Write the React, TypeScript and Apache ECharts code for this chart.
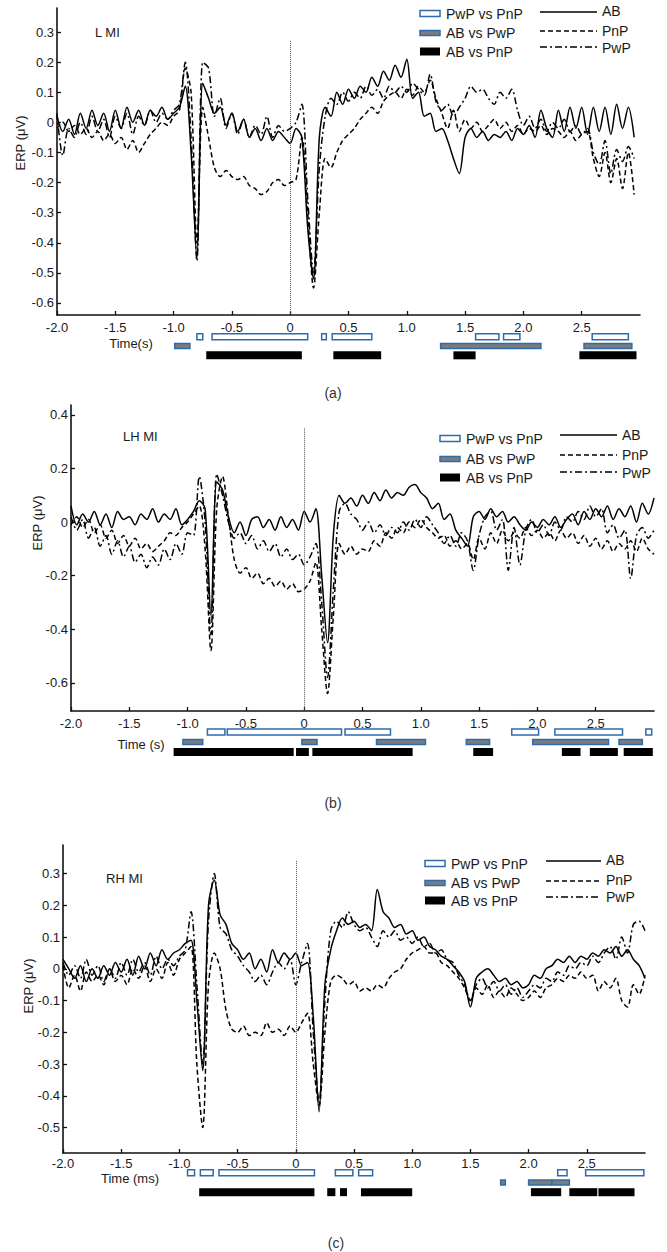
import React, { useEffect, useRef } from "react";
import * as echarts from "echarts";

// time grid (s), 0.05 s steps from -2.0 to 3.0
const TIME = Array.from({ length: 101 }, (_, i) => Math.round((-2 + i * 0.05) * 100) / 100);

// ---------- Panel (a) L MI ----------
const A_AB = [0.02,-0.03,0.01,-0.04,0.03,-0.02,0.04,-0.01,0.03,-0.03,
 0.04,-0.02,0.05,0.00,0.04,-0.01,0.04,0.02,0.05,0.01,
 0.03,0.05,0.12,-0.10,-0.45,0.13,0.08,0.03,0.05,-0.01,
 0.03,-0.03,0.01,-0.05,-0.02,-0.06,-0.02,-0.06,-0.03,-0.05,
 -0.07,-0.02,-0.05,-0.35,-0.52,-0.05,0.05,0.02,0.10,0.06,
 0.11,0.08,0.12,0.10,0.15,0.12,0.17,0.14,0.19,0.15,
 0.21,0.08,0.10,0.02,0.03,-0.03,-0.02,-0.06,-0.12,-0.17,
 -0.05,-0.02,-0.05,-0.03,-0.06,-0.04,-0.05,-0.03,-0.06,-0.02,
 -0.04,-0.01,-0.05,0.04,-0.02,-0.05,0.04,-0.03,0.05,-0.02,
 0.05,-0.04,0.05,-0.03,0.05,-0.04,0.06,-0.02,0.05,-0.05,
 null];
const A_PNP = [-0.02,0.00,-0.03,-0.01,-0.04,-0.02,-0.05,-0.03,-0.06,-0.04,
 -0.07,-0.05,-0.09,-0.06,-0.10,-0.07,-0.04,-0.02,0.00,-0.01,
 0.02,0.04,0.18,0.10,-0.40,0.05,-0.05,-0.15,-0.18,-0.16,
 -0.18,-0.19,-0.18,-0.21,-0.22,-0.24,-0.23,-0.20,-0.19,-0.21,
 -0.20,-0.19,-0.05,-0.30,-0.55,-0.30,-0.12,-0.15,-0.10,-0.06,
 -0.04,-0.02,0.01,0.03,0.05,0.03,0.07,0.09,0.10,0.08,
 0.11,0.09,0.12,0.10,0.14,0.08,0.03,-0.02,0.04,-0.03,
 0.01,-0.02,0.00,-0.03,-0.01,0.01,-0.02,0.00,-0.03,-0.01,
 -0.04,-0.02,-0.03,-0.01,-0.04,-0.02,-0.03,-0.05,-0.03,-0.06,
 -0.04,-0.03,-0.12,-0.18,-0.10,-0.20,-0.12,-0.22,-0.10,-0.24,
 null];
const A_PWP = [0.03,-0.11,-0.02,-0.05,0.00,-0.04,0.02,-0.03,0.01,-0.05,
 0.02,-0.02,0.03,-0.04,0.02,-0.01,0.04,0.00,0.03,0.01,
 0.04,0.06,0.20,-0.05,-0.46,0.20,0.18,0.02,0.08,-0.02,
 0.03,-0.04,0.01,-0.05,-0.01,-0.04,0.02,-0.05,-0.01,-0.03,
 -0.02,0.00,0.06,-0.25,-0.50,-0.15,0.02,0.08,0.06,0.10,
 0.07,0.10,0.08,0.12,0.09,0.11,0.08,0.12,0.10,0.12,
 0.10,0.13,0.11,0.09,0.16,0.07,0.04,0.06,0.02,0.05,
 0.08,0.12,0.10,0.11,0.08,0.06,0.10,0.08,0.11,0.04,
 -0.01,0.02,-0.02,0.01,-0.03,0.00,-0.02,0.01,-0.03,-0.01,
 -0.04,-0.02,-0.10,-0.14,-0.06,-0.17,-0.09,-0.13,-0.08,-0.12,
 null];
const A_PWP_VS_PNP = [[-0.80,-0.75],[-0.67,0.15],[0.27,0.31],[0.36,0.70],[1.59,1.79],[1.83,1.97],[2.59,2.90]];
const A_AB_VS_PWP = [[-0.99,-0.86],[1.29,2.15],[2.52,2.93]];
const A_AB_VS_PNP = [[-0.72,0.10],[0.37,0.78],[1.40,1.59],[2.48,2.97]];

// ---------- Panel (b) LH MI ----------
const B_AB = [0.06,-0.01,0.03,0.00,0.04,-0.01,0.03,-0.02,0.04,0.01,
 0.02,-0.01,0.03,0.01,0.05,0.00,0.03,0.01,0.05,-0.01,
 0.01,0.04,0.08,0.05,-0.35,0.15,0.12,0.02,-0.04,0.00,
 -0.05,0.01,0.02,-0.02,0.01,-0.03,0.02,-0.02,0.01,-0.03,
 0.04,0.00,0.05,-0.20,-0.45,-0.05,0.10,0.07,0.09,0.06,
 0.10,0.07,0.11,0.08,0.12,0.09,0.11,0.10,0.13,0.14,
 0.11,0.09,0.05,0.07,0.01,0.03,-0.03,-0.06,-0.09,0.02,
 0.04,0.01,0.05,0.02,0.04,0.00,0.02,-0.01,-0.03,0.00,
 -0.02,0.01,-0.01,0.02,-0.02,0.01,0.03,-0.01,0.04,0.01,
 0.05,0.02,0.06,0.01,0.05,0.02,0.06,0.00,0.07,0.03,
 0.09];
const B_PNP = [-0.01,0.02,-0.02,0.01,-0.04,-0.01,-0.06,-0.03,-0.08,-0.05,
 -0.09,-0.06,-0.10,-0.08,-0.11,-0.09,-0.07,-0.04,-0.05,-0.02,
 0.00,0.03,0.06,-0.10,-0.48,0.05,0.17,0.02,-0.14,-0.19,
 -0.17,-0.21,-0.19,-0.23,-0.21,-0.24,-0.22,-0.25,-0.23,-0.26,
 -0.25,-0.22,-0.15,-0.40,-0.64,-0.35,-0.08,-0.12,-0.09,-0.12,
 -0.10,-0.11,-0.07,-0.09,-0.04,-0.06,-0.02,-0.04,0.00,-0.02,
 0.01,-0.02,-0.04,-0.06,-0.05,-0.09,-0.07,-0.10,-0.08,-0.14,
 -0.06,-0.10,-0.04,-0.08,-0.03,-0.07,-0.04,-0.06,-0.02,-0.05,
 -0.03,-0.06,-0.04,-0.07,-0.03,-0.06,-0.04,-0.08,-0.05,-0.09,
 -0.06,-0.10,-0.07,-0.11,-0.08,-0.10,-0.07,-0.11,-0.06,-0.10,
 -0.12];
const B_PWP = [0.02,-0.03,0.01,-0.06,-0.02,-0.09,-0.05,-0.12,-0.07,-0.13,
 -0.09,-0.15,-0.12,-0.17,-0.13,-0.16,-0.10,-0.14,-0.08,-0.12,
 -0.04,-0.05,0.17,0.00,-0.42,0.18,0.10,0.00,-0.06,-0.04,
 -0.08,-0.05,-0.10,-0.07,-0.11,-0.08,-0.13,-0.10,-0.14,-0.12,
 -0.16,-0.13,-0.08,-0.30,-0.58,-0.25,0.04,0.07,0.03,0.01,
 -0.03,0.00,-0.04,-0.01,-0.05,-0.02,-0.04,0.00,-0.03,0.01,
 -0.02,0.02,-0.01,-0.04,-0.08,-0.05,-0.09,-0.04,-0.07,-0.18,
 -0.05,0.02,0.04,-0.03,0.01,-0.18,-0.02,-0.16,-0.03,0.01,
 -0.04,-0.01,-0.05,0.00,-0.03,0.02,0.00,0.04,0.01,0.06,
 0.02,0.05,-0.04,-0.01,-0.06,-0.03,-0.21,-0.05,-0.02,-0.06,
 -0.03];
const B_PWP_VS_PNP = [[-0.83,-0.68],[-0.66,0.32],[0.35,0.74],[1.78,2.01],[2.15,2.73],[2.93,2.98]];
const B_AB_VS_PWP = [[-1.04,-0.87],[-0.02,0.11],[0.62,1.04],[1.39,1.59],[1.96,2.61],[2.70,2.90]];
const B_AB_VS_PNP = [[-1.12,-0.09],[-0.07,0.04],[0.07,0.93],[1.45,1.62],[2.21,2.37],[2.45,2.69],[2.74,2.99]];

// ---------- Panel (c) RH MI ----------
const C_AB = [0.03,0.00,-0.03,0.01,-0.04,0.00,-0.03,0.01,-0.02,0.02,
 -0.01,0.03,-0.02,0.04,0.00,0.05,0.01,0.06,0.03,0.05,
 0.06,0.08,0.09,-0.10,-0.32,0.20,0.28,0.17,0.14,0.08,
 0.06,0.03,0.05,0.00,0.03,-0.01,0.06,0.02,0.05,0.03,
 0.05,0.01,0.02,-0.15,-0.45,-0.05,0.06,0.12,0.16,0.14,
 0.15,0.13,0.14,0.12,0.25,0.18,0.16,0.13,0.14,0.11,
 0.12,0.09,0.10,0.07,0.06,0.04,0.03,0.01,-0.01,-0.04,
 -0.12,-0.03,-0.01,0.00,-0.02,-0.04,-0.03,-0.05,-0.04,-0.06,
 -0.05,-0.02,-0.03,0.00,0.01,0.03,0.02,0.04,0.02,0.04,
 0.03,0.05,0.04,0.06,0.05,0.07,0.04,0.06,0.03,0.01,
 -0.03];
const C_PNP = [0.01,-0.06,-0.02,-0.07,-0.01,-0.04,-0.02,-0.05,0.00,-0.04,
 -0.02,-0.05,0.00,-0.03,0.01,-0.04,0.00,-0.03,0.02,-0.02,
 0.03,0.05,0.07,-0.30,-0.50,-0.05,0.05,0.00,-0.13,-0.19,
 -0.20,-0.18,-0.21,-0.20,-0.21,-0.17,-0.20,-0.19,-0.21,-0.18,
 -0.20,-0.17,-0.14,-0.30,-0.43,-0.20,-0.04,-0.02,-0.03,-0.05,
 -0.04,-0.07,-0.06,-0.07,-0.05,-0.06,-0.03,-0.01,0.00,0.03,
 0.05,0.06,0.07,0.05,0.05,0.02,0.01,-0.01,-0.03,-0.06,
 -0.10,-0.06,-0.08,-0.05,-0.09,-0.07,-0.09,-0.06,-0.08,-0.10,
 -0.09,-0.07,-0.09,-0.06,-0.05,-0.03,-0.04,-0.02,-0.03,-0.01,
 -0.03,-0.02,-0.07,-0.04,-0.06,-0.03,-0.10,-0.12,-0.05,-0.08,
 -0.02];
const C_PWP = [0.02,-0.02,0.01,-0.03,0.03,-0.02,0.01,-0.04,0.00,-0.03,
 0.02,-0.02,0.03,-0.01,0.02,-0.02,0.04,0.00,0.03,0.01,
 0.04,0.06,0.18,-0.05,-0.30,0.15,0.30,0.13,0.11,0.06,
 0.04,0.01,-0.01,-0.04,-0.02,-0.05,-0.01,0.02,0.00,0.03,
 -0.05,0.02,0.08,-0.20,-0.42,-0.10,0.12,0.15,0.13,0.18,
 0.14,0.12,0.13,0.10,0.07,0.12,0.10,0.12,0.09,0.10,
 0.08,0.10,0.07,0.08,0.05,0.06,0.03,0.02,-0.02,-0.05,
 -0.10,-0.05,-0.03,-0.06,-0.04,-0.07,-0.05,-0.08,-0.06,-0.09,
 -0.07,-0.05,-0.06,-0.03,-0.04,-0.01,-0.02,0.01,0.00,0.02,
 0.01,0.04,0.02,0.05,0.07,0.03,0.10,0.05,0.14,0.15,
 0.12];
const C_PWP_VS_PNP = [[-0.93,-0.87],[-0.82,-0.71],[-0.66,0.16],[0.34,0.49],[0.54,0.66],[2.25,2.33],[2.49,2.99]];
const C_AB_VS_PWP = [[1.76,1.80],[2.00,2.20],[2.20,2.35]];
const C_AB_VS_PNP = [[-0.83,0.16],[0.27,0.34],[0.38,0.44],[0.56,1.00],[2.02,2.28],[2.35,2.59],[2.60,2.91]];

// ---------- texts & scales ----------
const PANEL_LABELS = ["L MI", "LH MI", "RH MI"];
const CAPTIONS = ["(a)", "(b)", "(c)"];
const X_NAMES = ["Time(s)", "Time (s)", "Time (ms)"];
const Y_NAME = "ERP (\u03bcV)";
const BAR_LEGEND = ["PwP vs PnP", "AB vs PwP", "AB vs PnP"];
const LINE_LEGEND = ["AB", "PnP", "PwP"];
const X_RANGE = [-2, 3];
const X_STEP = 0.5;
const Y_RANGES = [[-0.64, 0.38], [-0.705, 0.437], [-0.58, 0.39]];
const Y_STEPS = [0.1, 0.2, 0.1];
const ZERO_LINE_TOP = [0.27, 0.35, 0.34];

const PANELS = [
  { ab: A_AB, pnp: A_PNP, pwp: A_PWP, bars: [A_PWP_VS_PNP, A_AB_VS_PWP, A_AB_VS_PNP] },
  { ab: B_AB, pnp: B_PNP, pwp: B_PWP, bars: [B_PWP_VS_PNP, B_AB_VS_PWP, B_AB_VS_PNP] },
  { ab: C_AB, pnp: C_PNP, pwp: C_PWP, bars: [C_PWP_VS_PNP, C_AB_VS_PWP, C_AB_VS_PNP] },
];

// layout (pixels)
const LAYOUT = [
  { left: 57, top: 8, width: 583, height: 307, barTop: 332, barH: 28, labelMargin: 6,
    label: [95, 32], yName: [20, 143], xName: [131, 343], caption: [333, 393],
    legRectX: 420, legRowY: [13.5, 33, 51.5], legTextX: 446,
    legLineX: [540, 597], legLineY: [12, 31, 47], legLineTextX: 602, legLineTextY: [11, 31, 48] },
  { left: 71, top: 405, width: 583, height: 306, barTop: 727, barH: 30, labelMargin: 6,
    label: [123, 436], yName: [37, 523], xName: [141, 744], caption: [333, 803],
    legRectX: 440, legRowY: [438.5, 459, 477.5], legTextX: 466,
    legLineX: [560, 617], legLineY: [435, 455, 472], legLineTextX: 622, legLineTextY: [435, 455, 473] },
  { left: 63, top: 845, width: 582, height: 308, barTop: 1168, barH: 29, labelMargin: 4,
    label: [106, 878], yName: [28, 986], xName: [130, 1178], caption: [336, 1243],
    legRectX: 425, legRowY: [863.5, 883, 900.5], legTextX: 451,
    legLineX: [546, 601], legLineY: [861, 881, 897], legLineTextX: 606, legLineTextY: [860, 880, 897] },
];

const FONT = '"Liberation Sans", Arial, sans-serif';
const BLUE = "#2f6bab";
const GRAY = "#7c7c7c";
const TXT = "#1a1a1a";
const DASHES = [null, [5, 3], [7, 3, 2, 3]];
const BAR_H = [6, 5, 8];
const LINE_W = 1.5;

function barStyle(r: number) {
  if (r === 0) return { fill: "#ffffff", stroke: BLUE, lineWidth: 1.5 };
  if (r === 1) return { fill: GRAY, stroke: BLUE, lineWidth: 1.5 };
  return { fill: "#000000" };
}

function fmtX(v: number) {
  return Math.abs(v) < 1e-9 ? "0" : v.toFixed(1);
}
function fmtY(v: number) {
  return Math.abs(v) < 1e-9 ? "0" : String(Math.round(v * 10) / 10);
}

function buildOption() {
  const grid: any[] = [];
  const xAxis: any[] = [];
  const yAxis: any[] = [];
  const series: any[] = [];
  const graphic: any[] = [];

  PANELS.forEach((p, k) => {
    const L = LAYOUT[k];
    const gi = k * 2;
    grid.push({ left: L.left, top: L.top, width: L.width, height: L.height });
    grid.push({ left: L.left, top: L.barTop, width: L.width, height: L.barH });

    xAxis.push({
      gridIndex: gi, type: "value", min: X_RANGE[0], max: X_RANGE[1], interval: X_STEP,
      axisLine: { show: true, onZero: false, lineStyle: { color: "#111", width: 1.6 } },
      axisTick: { show: true, inside: true, length: 4, lineStyle: { color: "#111", width: 1.3 } },
      axisLabel: { showMaxLabel: false, formatter: fmtX, color: TXT, fontSize: 13, fontFamily: FONT, margin: L.labelMargin },
      splitLine: { show: false },
    });
    xAxis.push({ gridIndex: gi + 1, type: "value", min: X_RANGE[0], max: X_RANGE[1], show: false });

    yAxis.push({
      gridIndex: gi, type: "value", min: Y_RANGES[k][0], max: Y_RANGES[k][1],
      minInterval: Y_STEPS[k], maxInterval: Y_STEPS[k],
      axisLine: { show: true, onZero: false, lineStyle: { color: "#111", width: 1.6 } },
      axisTick: { show: true, inside: true, length: 4, lineStyle: { color: "#111", width: 1.3 } },
      axisLabel: { showMinLabel: false, showMaxLabel: false, formatter: fmtY, color: TXT, fontSize: 13, fontFamily: FONT, margin: 3 },
      splitLine: { show: false },
    });
    yAxis.push({ gridIndex: gi + 1, type: "value", min: 0, max: 3, inverse: true, show: false });

    const lines = [p.ab, p.pnp, p.pwp];
    lines.forEach((arr, j) => {
      const s: any = {
        type: "line", xAxisIndex: gi, yAxisIndex: gi,
        data: TIME.map((t, i) => [t, arr[i]]),
        showSymbol: false, smooth: 0.3, silent: true,
        lineStyle: { color: "#000", width: LINE_W, type: DASHES[j] || "solid" },
      };
      if (j === 0) {
        s.markLine = {
          symbol: "none", silent: true, label: { show: false },
          lineStyle: { color: "#555", width: 1, type: "dotted" },
          data: [[{ coord: [0, ZERO_LINE_TOP[k]] }, { coord: [0, Y_RANGES[k][0]] }]],
        };
      }
      series.push(s);
    });

    const barData: any[] = [];
    p.bars.forEach((rows, r) => rows.forEach((iv) => barData.push([iv[0], iv[1], r])));
    series.push({
      type: "custom", xAxisIndex: gi + 1, yAxisIndex: gi + 1, silent: true, clip: false,
      encode: { x: [0, 1], y: 2 },
      data: barData,
      renderItem: (params: any, api: any) => {
        const r = api.value(2);
        const a = api.coord([api.value(0), r + 0.5]);
        const b = api.coord([api.value(1), r + 0.5]);
        const h = BAR_H[r];
        return { type: "rect", shape: { x: a[0], y: a[1] - h / 2, width: b[0] - a[0], height: h }, style: barStyle(r) };
      },
    });

    // texts
    graphic.push({ type: "text", x: L.label[0], y: L.label[1],
      style: { text: PANEL_LABELS[k], font: `13px ${FONT}`, fill: TXT, textAlign: "left", textVerticalAlign: "middle" } });
    graphic.push({ type: "text", x: L.yName[0], y: L.yName[1], rotation: Math.PI / 2,
      style: { text: Y_NAME, font: `13px ${FONT}`, fill: TXT, textAlign: "center", textVerticalAlign: "middle" } });
    graphic.push({ type: "text", x: L.xName[0], y: L.xName[1],
      style: { text: X_NAMES[k], font: `13px ${FONT}`, fill: TXT, textAlign: "center", textVerticalAlign: "middle" } });
    graphic.push({ type: "text", x: L.caption[0], y: L.caption[1],
      style: { text: CAPTIONS[k], font: `14px ${FONT}`, fill: "#333", textAlign: "center", textVerticalAlign: "middle" } });

    // legend: bars
    BAR_LEGEND.forEach((name, r) => {
      const h = BAR_H[r];
      graphic.push({ type: "rect", shape: { x: L.legRectX, y: L.legRowY[r] - h / 2, width: 20, height: h }, style: barStyle(r) });
      graphic.push({ type: "text", x: L.legTextX, y: L.legRowY[r],
        style: { text: name, font: `14px ${FONT}`, fill: TXT, textAlign: "left", textVerticalAlign: "middle" } });
    });
    // legend: lines
    LINE_LEGEND.forEach((name, j) => {
      graphic.push({ type: "line", shape: { x1: L.legLineX[0], y1: L.legLineY[j], x2: L.legLineX[1], y2: L.legLineY[j] },
        style: { stroke: "#000", lineWidth: LINE_W, lineDash: DASHES[j] || undefined } });
      graphic.push({ type: "text", x: L.legLineTextX, y: L.legLineTextY[j],
        style: { text: name, font: `14px ${FONT}`, fill: TXT, textAlign: "left", textVerticalAlign: "middle" } });
    });
  });

  return { animation: false, backgroundColor: "#fff", grid, xAxis, yAxis, series, graphic };
}

export default function App() {
  const ref = useRef<HTMLDivElement>(null);
  useEffect(() => {
    document.body.style.margin = "0";
    if (!ref.current) return;
    const chart = echarts.init(ref.current, null, { renderer: "svg" });
    chart.setOption(buildOption() as any);
    return () => chart.dispose();
  }, []);
  return <div ref={ref} style={{ width: 667, height: 1252, position: "absolute", left: 0, top: 0, background: "#fff" }} />;
}
